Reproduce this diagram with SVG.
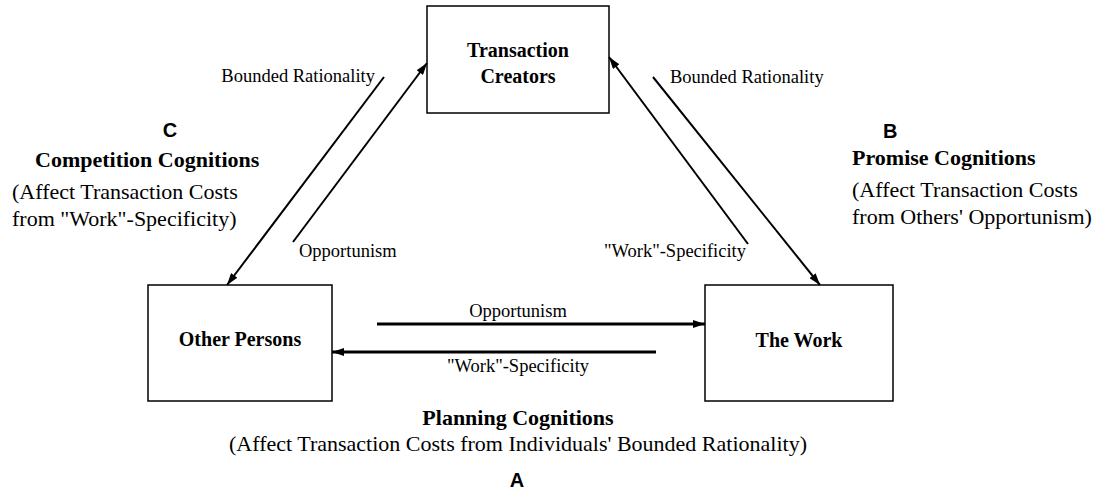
<svg xmlns="http://www.w3.org/2000/svg" width="1099" height="494" viewBox="0 0 1099 494">
<style>
.box{fill:#fff;stroke:#000;stroke-width:1.5}
.nl{font-family:"Liberation Serif","Times New Roman",serif;font-weight:bold;font-size:20px;fill:#000;text-anchor:middle}
.lbl{font-family:"Liberation Serif","Times New Roman",serif;font-size:18.5px;fill:#000}
.hd{font-family:"Liberation Serif","Times New Roman",serif;font-weight:bold;font-size:22px;fill:#000}
.tx{font-family:"Liberation Serif","Times New Roman",serif;font-size:22px;fill:#000}
.let{font-family:"Liberation Sans",Arial,sans-serif;font-weight:bold;font-size:20px;fill:#000}
.d{stroke:#000;stroke-width:2;fill:none}
.h{stroke:#000;stroke-width:3;fill:none}
</style>
<defs>
<marker id="ah" markerWidth="12" markerHeight="8" refX="12" refY="4" orient="auto" markerUnits="userSpaceOnUse"><path d="M0,0 L12,4 L0,8 z" fill="#000"/></marker>
</defs>
<rect width="1099" height="494" fill="#fff"/>
<g id="transaction-creators">
<rect class="box" x="427" y="6" width="182" height="107"/>
<text class="nl" x="518" y="57">Transaction</text>
<text class="nl" x="518" y="83">Creators</text>
</g>
<g id="other-persons">
<rect class="box" x="148" y="285" width="184" height="116"/>
<text class="nl" x="240" y="346">Other Persons</text>
</g>
<g id="the-work">
<rect class="box" x="705" y="285" width="188" height="116"/>
<text class="nl" x="799" y="347">The Work</text>
</g>
<g id="connectors">
<line class="d" x1="384" y1="77" x2="227" y2="285" marker-end="url(#ah)"/>
<line class="d" x1="293" y1="242" x2="427" y2="63" marker-end="url(#ah)"/>
<line class="d" x1="748" y1="244" x2="609" y2="57" marker-end="url(#ah)"/>
<line class="d" x1="653" y1="77" x2="820" y2="285" marker-end="url(#ah)"/>
<line class="h" x1="377" y1="324" x2="705" y2="324" marker-end="url(#ah)"/>
<line class="h" x1="656" y1="352" x2="332" y2="352" marker-end="url(#ah)"/>
</g>
<g id="labels">
<text class="lbl" x="375" y="82" text-anchor="end">Bounded Rationality</text>
<text class="lbl" x="299" y="257">Opportunism</text>
<text class="lbl" x="670" y="83">Bounded Rationality</text>
<text class="lbl" x="746" y="257" text-anchor="end">"Work"-Specificity</text>
<text class="lbl" x="518" y="317" text-anchor="middle">Opportunism</text>
<text class="lbl" x="518" y="372" text-anchor="middle">"Work"-Specificity</text>
</g>
<g id="group-c">
<text class="let" x="170" y="137" text-anchor="middle">C</text>
<text class="hd" x="35" y="167">Competition Cognitions</text>
<text class="tx" x="12" y="199">(Affect Transaction Costs</text>
<text class="tx" x="12" y="226">from "Work"-Specificity)</text>
</g>
<g id="group-b">
<text class="let" x="883" y="138">B</text>
<text class="hd" x="852" y="165">Promise Cognitions</text>
<text class="tx" x="852" y="197">(Affect Transaction Costs</text>
<text class="tx" x="852" y="224">from Others' Opportunism)</text>
</g>
<g id="group-a">
<text class="hd" x="518" y="425" text-anchor="middle">Planning Cognitions</text>
<text class="tx" x="518" y="451" text-anchor="middle">(Affect Transaction Costs from Individuals' Bounded Rationality)</text>
<text class="let" x="517" y="487" text-anchor="middle">A</text>
</g>
</svg>
